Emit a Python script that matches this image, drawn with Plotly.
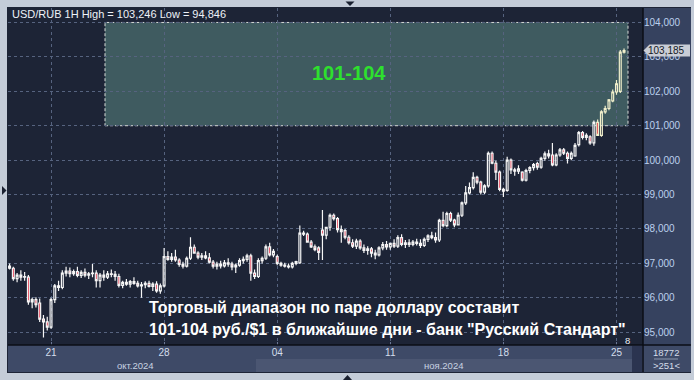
import plotly.graph_objects as go

# Hourly USD/RUB bars (bar number, OHLC), Oct 17 – Nov 25, 2024
opens = [96.92, 96.86, 96.56, 96.66, 96.60, 96.60, 95.88, 95.95, 95.85, 95.38,
         95.30, 95.15, 95.95, 96.35, 96.30, 96.72, 96.78, 96.70, 96.76, 96.65,
         96.74, 96.66, 96.70, 96.72, 96.50, 96.66, 96.60, 96.70, 96.68, 96.62,
         96.36, 96.45, 96.40, 96.47, 96.42, 96.35, 96.38, 96.42, 96.33, 96.40,
         96.20, 96.35, 97.20, 97.12, 97.18, 97.10, 96.97, 96.92, 97.15, 97.47,
         97.30, 97.18, 97.22, 97.16, 97.04, 96.92, 96.98, 96.93, 97.02, 96.98,
         96.90, 96.95, 97.08, 97.12, 97.22, 96.72, 96.62, 97.08, 97.15, 97.48,
         97.25, 97.20, 97.00, 96.95, 96.92, 96.90, 97.00, 97.02, 97.88, 97.85,
         97.62, 97.48, 97.45, 97.97, 97.82, 98.05, 98.40, 98.30, 97.98, 97.95,
         97.76, 97.60, 97.50, 97.65, 97.45, 97.38, 97.42, 97.30, 97.25, 97.45,
         97.55, 97.48, 97.58, 97.50, 97.75, 97.55, 97.60, 97.55, 97.62, 97.58,
         97.52, 97.70, 97.80, 97.75, 97.68, 98.25, 98.10, 98.45, 98.26, 98.12,
         98.40, 98.76, 99.05, 99.20, 99.50, 99.36, 99.07, 99.25, 100.20, 99.91,
         99.65, 99.15, 99.12, 100.00, 99.72, 99.68, 99.65, 99.42, 99.70, 99.78,
         99.90, 99.80, 100.05, 100.18, 100.15, 99.86, 100.15, 100.30, 100.20, 100.05,
         100.12, 100.45, 100.80, 100.66, 100.68, 100.50, 101.10, 100.72, 101.40, 101.50,
         101.72, 101.98, 102.00, 103.14]
highs = [97.00, 96.90, 96.72, 96.80, 96.75, 96.66, 96.00, 96.02, 95.98, 95.50,
         95.45, 96.00, 96.40, 96.50, 96.80, 96.90, 96.88, 96.82, 96.90, 96.80,
         96.85, 96.75, 96.98, 96.80, 96.72, 96.80, 96.78, 96.82, 96.78, 96.70,
         96.50, 96.55, 96.52, 96.60, 96.50, 96.46, 96.48, 96.50, 96.45, 96.48,
         96.42, 97.45, 97.35, 97.30, 97.40, 97.15, 97.05, 97.20, 97.76, 97.55,
         97.35, 97.30, 97.35, 97.30, 97.10, 97.05, 97.08, 97.10, 97.15, 97.05,
         97.00, 97.15, 97.20, 97.28, 97.28, 96.82, 97.15, 97.20, 97.55, 97.60,
         97.42, 97.25, 97.05, 97.02, 97.00, 97.05, 97.08, 98.10, 97.95, 97.90,
         97.68, 97.55, 97.50, 98.55, 98.05, 98.45, 98.45, 98.35, 98.10, 98.00,
         97.82, 97.70, 97.72, 97.70, 97.55, 97.50, 97.48, 97.40, 97.50, 97.62,
         97.65, 97.60, 97.70, 97.82, 97.85, 97.68, 97.70, 97.68, 97.72, 97.70,
         97.75, 97.85, 97.92, 97.90, 98.30, 98.50, 98.50, 98.50, 98.30, 98.48,
         98.80, 99.25, 99.35, 99.65, 99.55, 99.40, 99.30, 100.25, 100.25, 99.98,
         99.70, 99.20, 100.10, 100.05, 99.78, 99.85, 99.68, 99.75, 99.82, 99.92,
         99.95, 100.10, 100.25, 100.30, 100.50, 100.20, 100.35, 100.35, 100.25, 100.25,
         100.50, 100.85, 100.85, 100.78, 100.72, 101.15, 101.18, 101.45, 101.58, 101.78,
         102.05, 102.33, 103.20, 103.246]
lows = [96.82, 96.50, 96.45, 96.50, 96.50, 95.80, 95.70, 95.72, 95.30, 94.846,
        95.05, 95.10, 95.85, 96.20, 96.25, 96.62, 96.60, 96.64, 96.60, 96.58,
        96.60, 96.55, 96.60, 96.30, 96.30, 96.50, 96.55, 96.60, 96.50, 96.30,
        96.28, 96.35, 96.30, 96.38, 96.30, 96.00, 96.28, 96.30, 96.20, 96.15,
        96.12, 96.30, 97.08, 97.05, 97.05, 96.90, 96.85, 96.88, 97.10, 97.28,
        97.12, 97.10, 97.12, 97.00, 96.85, 96.82, 96.85, 96.88, 96.90, 96.80,
        96.72, 96.90, 97.00, 97.05, 96.50, 96.55, 96.58, 97.00, 97.10, 97.20,
        97.18, 96.95, 96.90, 96.88, 96.85, 96.85, 96.95, 96.98, 97.80, 97.60,
        97.45, 97.35, 97.10, 97.10, 97.70, 97.95, 98.25, 97.90, 97.60, 97.70,
        97.55, 97.45, 97.42, 97.40, 97.30, 97.25, 97.18, 97.12, 97.20, 97.38,
        97.40, 97.40, 97.45, 97.45, 97.50, 97.45, 97.48, 97.50, 97.52, 97.45,
        97.48, 97.62, 97.70, 97.60, 97.62, 98.05, 98.05, 98.20, 98.05, 98.10,
        98.35, 98.70, 99.00, 99.15, 99.30, 99.00, 99.02, 99.20, 99.88, 99.42,
        99.10, 98.93, 99.08, 99.60, 99.55, 99.60, 99.38, 99.38, 99.62, 99.70,
        99.72, 99.75, 99.98, 100.05, 99.82, 99.82, 100.10, 100.15, 99.90, 100.00,
        100.10, 100.40, 100.60, 100.58, 100.45, 100.42, 100.70, 100.68, 101.35, 101.45,
        101.68, 101.90, 101.95, 103.10]
closes = [96.86, 96.56, 96.66, 96.60, 96.62, 95.88, 95.95, 95.80, 95.38, 95.30,
          95.15, 95.95, 96.35, 96.30, 96.72, 96.78, 96.70, 96.76, 96.65, 96.74,
          96.66, 96.70, 96.72, 96.50, 96.66, 96.60, 96.70, 96.68, 96.62, 96.36,
          96.45, 96.40, 96.47, 96.42, 96.35, 96.38, 96.42, 96.33, 96.40, 96.20,
          96.35, 97.20, 97.12, 97.18, 97.10, 96.97, 96.92, 97.15, 97.47, 97.30,
          97.18, 97.22, 97.16, 97.04, 96.92, 96.98, 96.93, 97.02, 96.98, 96.90,
          96.95, 97.08, 97.12, 97.22, 96.72, 96.62, 97.08, 97.15, 97.48, 97.25,
          97.35, 97.00, 96.95, 96.92, 96.90, 97.00, 97.05, 97.88, 97.85, 97.62,
          97.48, 97.40, 97.32, 97.82, 98.05, 98.40, 98.30, 97.98, 97.92, 97.76,
          97.60, 97.50, 97.65, 97.45, 97.38, 97.42, 97.30, 97.25, 97.45, 97.55,
          97.48, 97.58, 97.50, 97.75, 97.55, 97.60, 97.55, 97.62, 97.58, 97.52,
          97.70, 97.80, 97.75, 97.68, 98.25, 98.10, 98.45, 98.26, 98.12, 98.40,
          98.76, 99.05, 99.20, 99.50, 99.36, 99.07, 99.25, 100.20, 99.91, 99.65,
          99.15, 99.10, 100.00, 99.72, 99.68, 99.75, 99.42, 99.70, 99.78, 99.87,
          99.80, 100.05, 100.18, 100.12, 99.86, 100.15, 100.30, 100.20, 100.05, 100.20,
          100.43, 100.80, 100.66, 100.72, 100.50, 101.10, 100.72, 101.40, 101.50, 101.75,
          101.98, 102.22, 103.14, 103.185]
bars = list(range(len(closes)))

# Week starts (bar numbers of the first Monday bar) and their labels
week_bars = [11, 41, 71, 101, 131, 161]
week_labels = ["21", "28", "04", "11", "18", "25"]
months = ["окт.2024", "ноя.2024"]

price_ticks = [95, 96, 97, 98, 99, 100, 101, 102, 103, 104]
price_labels = [f"{v:.3f}".replace(".", ",") for v in price_ticks]

range_low, range_high = 101, 104
range_text = "101-104"
headline = ["Торговый диапазон по паре доллару составит",
            "101-104 руб./$1 в ближайшие дни - банк \"Русский Стандарт\""]

W, H = 694, 380
FONT = "Liberation Sans, Arial, sans-serif"
BG = "#343f5c"


def px(x):
    return x / W


def py(y):
    return 1 - y / H


def fmt(v):
    return f"{v:.3f}".replace(".", ",")


fig = go.Figure()

# bars that sit inside the forecast band are drawn in a pale tint
split = 156
for sl, col in ((slice(0, split), "#f6f6f6"), (slice(split, None), "#f2f0cc")):
    fig.add_trace(go.Candlestick(
        x=bars[sl], open=opens[sl], high=highs[sl], low=lows[sl], close=closes[sl],
        increasing=dict(line=dict(color=col, width=1.2), fillcolor="rgba(0,0,0,0)"),
        decreasing=dict(line=dict(color=col, width=1.2), fillcolor="#e3112d"),
        whiskerwidth=0, hoverinfo="skip", showlegend=False,
    ))

shapes = []
# frame pieces around the chart
shapes.append(dict(type="rect", xref="paper", yref="paper", x0=px(7), x1=px(691), y0=py(373), y1=py(7),
                   fillcolor="#1d2436", line_width=0, layer="below"))
shapes.append(dict(type="rect", xref="paper", yref="paper", x0=px(643), x1=px(691), y0=py(345), y1=py(8),
                   fillcolor="#36425f", line_width=0, layer="below"))
shapes.append(dict(type="rect", xref="paper", yref="paper", x0=px(8), x1=px(691), y0=py(372), y1=py(345),
                   fillcolor="#3e4a67", line_width=0, layer="below"))
shapes.append(dict(type="rect", xref="paper", yref="paper", x0=px(256), x1=px(632), y0=py(372), y1=py(359),
                   fillcolor="#4b5672", line_width=0, layer="below"))
shapes.append(dict(type="rect", xref="paper", yref="paper", x0=px(632), x1=px(642), y0=py(372), y1=py(346),
                   fillcolor="#2b3450", line_width=0, layer="below"))
# forecast band 101-104
shapes.append(dict(type="rect", xref="paper", yref="y", x0=px(105), x1=px(628), y0=range_low, y1=range_high,
                   fillcolor="#3f5b60", line=dict(color="#d6dad6", width=1, dash="3px,2px"), layer="below"))
# axis separator lines
shapes.append(dict(type="line", xref="paper", yref="paper", x0=px(643), x1=px(643), y0=py(372), y1=py(8),
                   line=dict(color="#0b0e16", width=1.5), layer="above"))
shapes.append(dict(type="line", xref="paper", yref="paper", x0=px(8), x1=px(691), y0=py(345), y1=py(345),
                   line=dict(color="#0b0e16", width=1.5), layer="above"))
shapes.append(dict(type="line", xref="paper", yref="paper", x0=px(654), x1=px(678), y0=py(359), y1=py(359),
                   line=dict(color="#8c98b0", width=1), layer="above"))
# scroll arrows in the outer frame
for path in ("M %f,%f L %f,%f L %f,%f Z" % (px(2), py(186), px(2), py(195), px(6.5), py(190.5)),
             "M %f,%f L %f,%f L %f,%f Z" % (px(345.5), py(1.5), px(354.5), py(1.5), px(350), py(6)),
             "M %f,%f L %f,%f L %f,%f Z" % (px(343), py(380), px(352), py(380), px(347.5), py(375))):
    shapes.append(dict(type="path", xref="paper", yref="paper", path=path,
                       fillcolor="#1a2030", line_width=0, layer="above"))

# last price tag on the price axis
last = closes[-1]
tag_half = 6 / 34.4
shapes.append(dict(type="path", xref="paper", yref="y",
                   path="M %f,%f L %f,%f L %f,%f L %f,%f L %f,%f Z" % (
                       px(643.5), last, px(649.5), last + tag_half, px(690), last + tag_half,
                       px(690), last - tag_half, px(649.5), last - tag_half),
                   fillcolor="#c9cdd6", line_width=0, layer="above"))

annotations = [
    dict(x=px(10), y=py(14.5), xref="paper", yref="paper", xanchor="left", yanchor="middle",
         text=f"USD/RUB 1H High = {fmt(max(highs))} Low = {fmt(min(lows))}",
         font=dict(family=FONT, size=11, color="#eef2f8"), showarrow=False),
    dict(x=px(349), y=py(73), xref="paper", yref="paper", xanchor="center", yanchor="middle",
         text=f"<b>{range_text}</b>", font=dict(family=FONT, size=20, color="#2ee02e"), showarrow=False),
    dict(x=px(147), y=py(307), xref="paper", yref="paper", xanchor="left", yanchor="middle",
         text=f"<b>{headline[0]}</b>", font=dict(family=FONT, size=16, color="#ffffff"), showarrow=False),
    dict(x=px(147), y=py(329), xref="paper", yref="paper", xanchor="left", yanchor="middle",
         text=f"<b>{headline[1]}</b>", font=dict(family=FONT, size=16, color="#ffffff"), showarrow=False),
    dict(x=px(135), y=py(365.5), xref="paper", yref="paper", xanchor="center", yanchor="middle",
         text=months[0], font=dict(family=FONT, size=9.5, color="#c8d2e2"), showarrow=False),
    dict(x=px(443), y=py(365.5), xref="paper", yref="paper", xanchor="center", yanchor="middle",
         text=months[1], font=dict(family=FONT, size=9.5, color="#c8d2e2"), showarrow=False),
    dict(x=px(627), y=py(340.5), xref="paper", yref="paper", xanchor="center", yanchor="middle",
         text="8", font=dict(family=FONT, size=9.5, color="#e8ecf2"), showarrow=False),
    dict(x=px(666), y=py(352.5), xref="paper", yref="paper", xanchor="center", yanchor="middle",
         text="18772", font=dict(family=FONT, size=9.5, color="#d4dcea"), showarrow=False),
    dict(x=px(666), y=py(365.5), xref="paper", yref="paper", xanchor="center", yanchor="middle",
         text="&gt;251&lt;", font=dict(family=FONT, size=9.5, color="#d4dcea"), showarrow=False),
    dict(x=px(646), y=last, xref="paper", yref="y", xanchor="left", yanchor="middle",
         text=fmt(last), font=dict(family=FONT, size=10, color="#141824"), showarrow=False),
]

fig.update_layout(
    width=W, height=H, margin=dict(l=0, r=0, t=0, b=0),
    paper_bgcolor="#c4ccd8", plot_bgcolor=BG,
    shapes=shapes, annotations=annotations, showlegend=False,
    xaxis=dict(domain=[px(8), px(643)], range=[-0.41, 168.03], rangeslider=dict(visible=False),
               tickvals=week_bars, ticktext=week_labels, ticks="inside", ticklen=3, tickcolor="#6c7896",
               tickfont=dict(family=FONT, size=10, color="#d4deec"),
               showgrid=True, gridcolor="#56637f", griddash="3px,3px", gridwidth=1,
               zeroline=False, showline=False, fixedrange=True),
    yaxis=dict(domain=[py(345), py(8)], range=[94.63, 104.42], side="right",
               tickvals=price_ticks, ticktext=price_labels, ticks="",
               tickfont=dict(family=FONT, size=10, color="#bcd0ee"),
               showgrid=True, gridcolor="#56637f", griddash="3px,3px", gridwidth=1,
               zeroline=False, showline=False, fixedrange=True),
)

fig.write_html("out.html")
